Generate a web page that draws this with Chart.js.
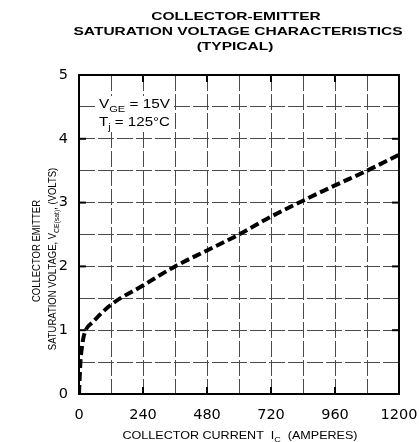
<!DOCTYPE html>
<html><head><meta charset="utf-8">
<script src="https://cdn.jsdelivr.net/npm/chart.js@4/dist/chart.umd.min.js"></script>
<style>html,body{margin:0;padding:0;background:#fff;}canvas{display:block;}</style>
</head><body>
<canvas id="c" width="419" height="442"></canvas>
<script>
const titleLines = ["COLLECTOR-EMITTER", "SATURATION VOLTAGE CHARACTERISTICS", "(TYPICAL)"];
const currentA = [0, 3, 6, 10, 15, 25, 50, 120, 240, 360, 480, 600, 720, 840, 960, 1080, 1200];
const vceSat   = [0, 0.3, 0.55, 0.7, 0.85, 1.0, 1.12, 1.4, 1.7, 2.0, 2.25, 2.5, 2.78, 3.03, 3.27, 3.5, 3.75];
const xTickLabels = [0, 240, 480, 720, 960, 1200];
const yTickLabels = [0, 1, 2, 3, 4, 5];
const FONT = '"Liberation Sans", Arial, Helvetica, sans-serif';
const TICKFONT = '"DejaVu Sans", "Liberation Sans", sans-serif';

function setFont(ctx, size, sub, bold) {
  ctx.font = (bold ? 'bold ' : '') + (sub ? size * 0.72 : size) + 'px ' + FONT;
}
function measureSub(ctx, parts, size, bold) {
  let w = 0;
  for (const [t, sub] of parts) { setFont(ctx, size, sub, bold); w += ctx.measureText(t).width; }
  return w;
}
function drawSub(ctx, parts, x, y, size, sx, bold) {
  ctx.save();
  ctx.translate(x, y);
  ctx.scale(sx, 1);
  ctx.textAlign = 'left';
  ctx.textBaseline = 'alphabetic';
  let cx = 0;
  for (const [t, sub] of parts) {
    setFont(ctx, size, sub, bold);
    ctx.fillText(t, cx, sub ? size * 0.3 : 0);
    cx += ctx.measureText(t).width;
  }
  ctx.restore();
}
function drawCentered(ctx, parts, cx, y, size, targetW, bold, sxOverride) {
  const w = measureSub(ctx, parts, size, bold);
  const sx = sxOverride || targetW / w;
  drawSub(ctx, parts, cx - w * sx / 2, y, size, sx, bold);
  return sx;
}

const decor = {
  id: 'decor',
  afterDatasetsDraw(chart) {
    const ctx = chart.ctx;
    ctx.save();
    const ann1 = [['V', false], ['GE', true], [' = 15V', false]];
    const ann2 = [['T', false], ['j', true], [' = 125°C', false]];
    ctx.fillStyle = '#fff';
    ctx.fillRect(96, 96, 78, 34);
    ctx.fillStyle = '#000';
    drawSub(ctx, ann1, 99, 108, 12.5, 71 / measureSub(ctx, ann1, 12.5));
    drawSub(ctx, ann2, 99, 126, 12.5, 71 / measureSub(ctx, ann2, 12.5));
    ctx.restore();
  },
  afterDraw(chart) {
    const ctx = chart.ctx, a = chart.chartArea;
    ctx.save();
    ctx.strokeStyle = '#000'; ctx.lineWidth = 2;
    ctx.strokeRect(a.left, a.top, a.right - a.left, a.bottom - a.top);
    const xs = chart.scales.x, ys = chart.scales.y;
    for (const v of xTickLabels) {
      const px = xs.getPixelForValue(v);
      ctx.beginPath(); ctx.moveTo(px, a.bottom); ctx.lineTo(px, a.bottom - 7); ctx.stroke();
      ctx.beginPath(); ctx.moveTo(px, a.top); ctx.lineTo(px, a.top + 7); ctx.stroke();
    }
    for (const v of yTickLabels) {
      const py = ys.getPixelForValue(v);
      ctx.beginPath(); ctx.moveTo(a.left, py); ctx.lineTo(a.left + 7, py); ctx.stroke();
      ctx.beginPath(); ctx.moveTo(a.right, py); ctx.lineTo(a.right - 7, py); ctx.stroke();
    }
    ctx.fillStyle = '#000';
    const sxT = drawCentered(ctx, [[titleLines[1], false]], 238, 35, 11, 329, true);
    drawCentered(ctx, [[titleLines[0], false]], 236, 19.5, 11, 0, true, sxT);
    drawCentered(ctx, [[titleLines[2], false]], 235, 49.5, 11, 0, true, sxT);
    drawCentered(ctx, [['COLLECTOR CURRENT  I', false], ['C', true], ['  (AMPERES)', false]], 240, 439, 10.5, 235);
    ctx.save();
    ctx.rotate(-Math.PI / 2);
    const sy1 = drawCentered(ctx, [['COLLECTOR EMITTER', false]], -251, 40, 10.5, 102);
    drawCentered(ctx, [['SATURATION VOLTAGE, V', false], ['CE(sat)', true], [', (VOLTS)', false]], -259, 56, 10.5, 0, false, sy1);
    ctx.restore();
    ctx.restore();
  }
};

const gridColor = '#4a4a4a';
new Chart(document.getElementById('c'), {
  type: 'line',
  data: {
    datasets: [{
      data: currentA.map((x, i) => ({ x, y: vceSat[i] })),
      borderColor: '#000',
      borderWidth: 4,
      borderDash: [9, 4],
      pointRadius: 0,
      cubicInterpolationMode: 'monotone',
      fill: false
    }]
  },
  options: {
    responsive: false,
    animation: false,
    devicePixelRatio: 1,
    layout: { padding: { top: 75, right: 20, left: 0, bottom: 0 } },
    plugins: { legend: { display: false }, tooltip: { enabled: false } },
    scales: {
      x: {
        type: 'linear', min: 0, max: 1200,
        border: { display: false, dash: [16, 3] },
        grid: { color: gridColor, lineWidth: 1, drawTicks: false },
        ticks: {
          stepSize: 120, autoSkip: false, maxRotation: 0, padding: 13,
          color: '#000', font: { family: TICKFONT, size: 14.5 },
          callback: v => xTickLabels.includes(v) ? String(v) : ''
        },
        afterFit(s) { s.height = 48; s.paddingLeft = 0; s.paddingRight = 0; }
      },
      y: {
        min: 0, max: 5,
        border: { display: false, dash: [16, 3] },
        grid: { color: gridColor, lineWidth: 1, drawTicks: false },
        ticks: {
          stepSize: 0.5, autoSkip: false, padding: 11,
          color: '#000', font: { family: TICKFONT, size: 14.5 },
          callback: v => yTickLabels.includes(v) ? String(v) : ''
        },
        afterFit(s) { s.width = 79; s.paddingTop = 0; s.paddingBottom = 0; }
      }
    }
  },
  plugins: [decor]
});
</script>
</body></html>
